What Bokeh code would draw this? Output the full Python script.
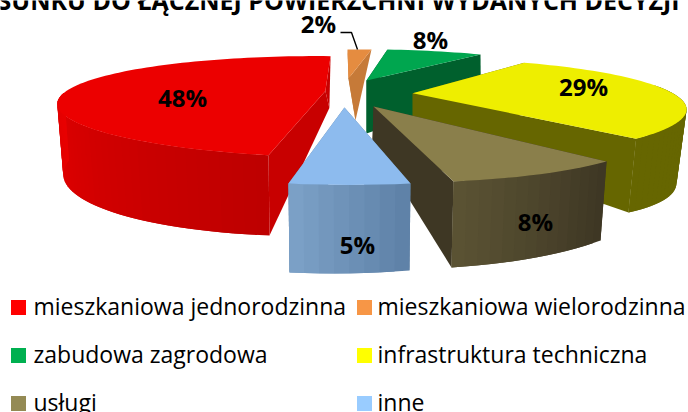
import numpy as np
from bokeh.plotting import figure
from bokeh.models import ColumnDataSource, Range1d
from bokeh.core.properties import value
from bokeh.embed import file_html
from bokeh.resources import INLINE

# ---- data
categories = ["mieszkaniowa jednorodzinna", "mieszkaniowa wielorodzinna", "zabudowa zagrodowa",
              "infrastruktura techniczna", "usługi", "inne"]
shares = [48, 2, 8, 29, 8, 5]
title_text = "SUNKU DO ŁĄCZNEJ POWIERZCHNI WYDANYCH DECYZJI"

# ---- styles
legend_colors = ["#FF0000", "#F79646", "#00B050", "#FFFF00", "#948A54", "#99CCFF"]
top_colors = ["#EC0000", "#E58C40", "#00A64F", "#EEEE00", "#8A7F4B", "#8DBBEE"]
side_colors = ["#C80000", "#C67A38", "#00602D", "#666600", "#3E3724", "#60809F"]
wall_from = ["#BE0000", "#C67A38", "#00602D", "#666600", "#3E3724", "#5F82A8"]
wall_to = ["#E80000", "#C67A38", "#00602D", "#666600", "#5A5233", "#7BA0C6"]
paint_order = [1, 2, 3, 0, 4, 5]

# ---- layout: camera of the 3-D pie and per-slice screen adjustments
CAM = dict(cx=353.923, cy=90.530, fx=791.382, fy=747.930, D=3.1154, phi=0.21269, k=-0.11285)
EXPLODE, THICK, START = 0.15278, 0.24205, 3.39288
ADJUST_TOP = [
    [[1.0407, 0.1843, -19.7039], [-0.0088, 0.9225, 11.1348]],
    [[1.0096, 0.0809, -18.9275], [-0.0224, 0.8192, 17.7919]],
    [[0.9782, 0.0451, 2.0564], [-0.013, 0.8772, 11.0717]],
    [[0.9523, 0.0164, 36.2965], [-0.0296, 0.8914, 23.0468]],
    [[0.9563, 0.0682, 11.6722], [-0.0226, 0.9288, 23.1121]],
    [[0.9821, -0.0343, -0.9571], [-0.0271, 0.9375, 24.1668]],
]
ADJUST_BOT = [
    [[1.0166, 0.1713, -26.3536], [-0.0494, 0.9181, 31.3775]],
    [[1.0096, 0.0809, -18.9275], [-0.0224, 0.8192, 17.7919]],
    [[0.9782, 0.0451, 2.0564], [-0.013, 0.8772, 11.0717]],
    [[0.9328, 0.0412, 39.6286], [0.0486, 0.782, 6.0335]],
    [[0.9543, 0.0639, 8.2039], [-0.034, 0.9427, 32.3616]],
    [[0.991, -0.0341, -1.1162], [-0.0532, 0.9516, 39.3059]],
]
APEX_DROP = [(4, 17), (7, 42), (0, 53), (0, 45), (-1, 34), (0, 40)]
LABEL_POS = [(182, 99), (318, 25), (430, 41), (583, 88), (535, 223), (357, 246)]


def project(i, x, y, z):
    c = CAM
    xc = x + c["k"] * y
    yc = y * np.sin(c["phi"]) + z * np.cos(c["phi"])
    zc = c["D"] + y * np.cos(c["phi"]) - z * np.sin(c["phi"])
    sx = c["cx"] + c["fx"] * xc / zc
    sy = c["cy"] - c["fy"] * yc / zc
    m = (ADJUST_TOP if z == 0 else ADJUST_BOT)[i]
    return (m[0][0] * sx + m[0][1] * sy + m[0][2], m[1][0] * sx + m[1][1] * sy + m[1][2])


def mix(a, b, t):
    ca = [int(a[j:j + 2], 16) for j in (1, 3, 5)]
    cb = [int(b[j:j + 2], 16) for j in (1, 3, 5)]
    return "#%02x%02x%02x" % tuple(round(u + (v - u) * t) for u, v in zip(ca, cb))


fracs = np.array(shares, float) / sum(shares) * 2 * np.pi
ends = np.cumsum(fracs)
begins = ends - fracs

xs, ys, fills = [], [], []


def add(px, py, color):
    xs.append(list(px)); ys.append(list(py)); fills.append(color)


for i in paint_order:
    a, b = START + begins[i], START + ends[i]
    mid = (a + b) / 2
    ox, oy = EXPLODE * np.sin(mid), EXPLODE * np.cos(mid)
    th = np.linspace(a, b, max(int(np.degrees(b - a) / 2), 8) + 1)
    ax_, ay_ = ox + np.sin(th), oy + np.cos(th)
    # radial walls
    p0 = project(i, ox, oy, 0)
    p3 = (p0[0] + APEX_DROP[i][0], p0[1] + APEX_DROP[i][1])
    walls = []
    for t in (a, b):
        ex, ey = ox + np.sin(t), oy + np.cos(t)
        p1, p2 = project(i, ex, ey, 0), project(i, ex, ey, -THICK)
        if np.cos(t) > 0.8:  # wall running away from the viewer
            walls.append((p1[1], [p0[0], p1[0], p3[0]], [p0[1], p1[1], p3[1]]))
        else:
            walls.append((p1[1], [p0[0], p1[0], p2[0], p3[0]], [p0[1], p1[1], p2[1], p3[1]]))
    for _, wx, wy in sorted(walls, key=lambda w: w[0]):
        add(wx, wy, side_colors[i])
    # outer wall, only the part that faces the viewer; bands overlap to hide seams
    front = [j for j in range(len(th) - 1) if np.cos((th[j] + th[j + 1]) / 2) < 0.02]
    last = front[-1] + 1 if front else 0
    for n, j in enumerate(front):
        k = min(j + 2, last)
        q0 = project(i, ax_[j], ay_[j], 0); q1 = project(i, ax_[k], ay_[k], 0)
        q2 = project(i, ax_[k], ay_[k], -THICK); q3 = project(i, ax_[j], ay_[j], -THICK)
        add([q0[0], q1[0], q2[0], q3[0]], [q0[1], q1[1], q2[1], q3[1]],
            mix(wall_from[i], wall_to[i], n / max(len(front) - 1, 1)))
    # top face
    tx, ty = project(i, np.r_[ox, ax_], np.r_[oy, ay_], 0)
    add(tx, ty, top_colors[i])

p = figure(width=688, height=412, output_backend="svg", toolbar_location=None,
           x_range=Range1d(0, 688), y_range=Range1d(412, 0), min_border=0)
p.axis.visible = False
p.grid.visible = False
p.outline_line_color = None
p.background_fill_color = "#FFFFFF"
p.border_fill_color = "#FFFFFF"

src = ColumnDataSource(dict(xs=xs, ys=ys, fill=fills))
p.patches("xs", "ys", source=src, fill_color="fill", line_color=None)

# leader line for the small slice
p.line([340, 351, 357], [32, 32, 49], line_color="#000000", line_width=1.4)

# percent labels
p.text([q[0] for q in LABEL_POS], [q[1] for q in LABEL_POS], text=[f"{v}%" for v in shares],
       text_font=value("Open Sans"), text_font_style="bold", text_font_size="24px",
       text_align="center", text_baseline="middle", text_color="#000000", y_offset=-2)

# title, cut by the top edge as in the source picture
p.text([-3], [0], text=[title_text], text_font=value("Open Sans"), text_font_style="bold",
       text_font_size="25px", text_align="left", text_baseline="alphabetic", text_color="#000000",
       y_offset=-1)

# legend
col_sq = [18, 364]
col_tx = [33, 377]
row_y = [307, 355, 403]
lx, ly = [], []
for n in range(len(categories)):
    lx.append(col_sq[n % 2]); ly.append(row_y[n // 2])
p.rect(lx, ly, width=15, height=15, fill_color=legend_colors, line_color=None)
p.text([col_tx[n % 2] for n in range(6)], ly, text=categories, text_font=value("Open Sans"),
       text_font_size="23px", text_align="left", text_baseline="middle", text_color="#000000",
       y_offset=-2)

open("out.html", "w").write(file_html(p, INLINE))
